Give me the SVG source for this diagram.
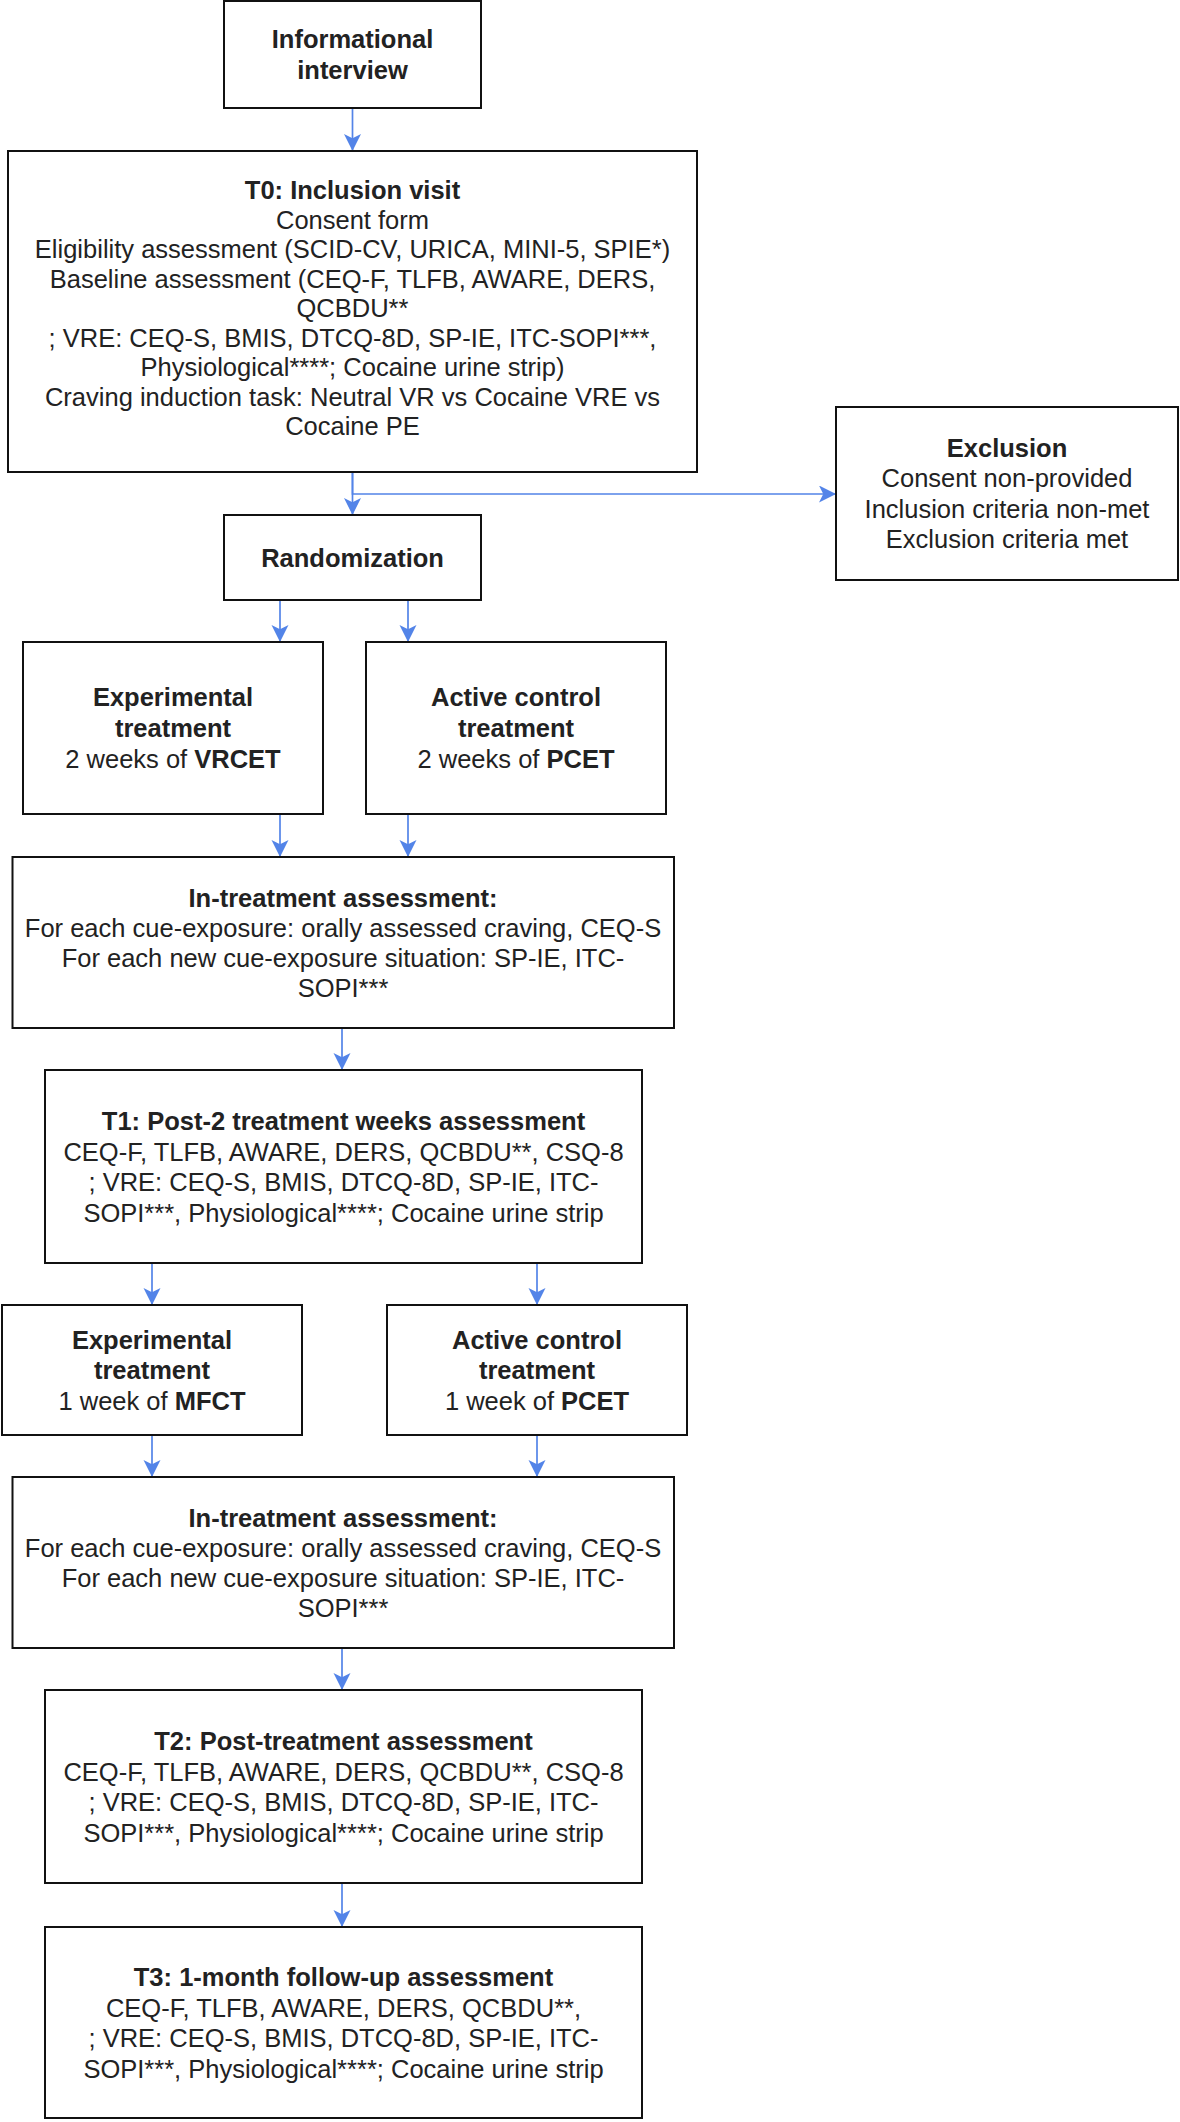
<svg xmlns="http://www.w3.org/2000/svg" width="1180" height="2122" viewBox="0 0 1180 2122">
<defs>
<style>
.box{fill:#fff;stroke:#111;stroke-width:2}
.t{font-family:"Liberation Sans",Arial,Helvetica,sans-serif;font-size:25.5px;fill:#222;text-anchor:middle}
.b{font-weight:bold}
.arr{fill:none;stroke:#5384e8;stroke-width:1.7;marker-end:url(#ah)}
</style>
<marker id="ah" markerUnits="userSpaceOnUse" markerWidth="18" markerHeight="18" refX="17" refY="8.5" orient="auto">
<path d="M0,0 L17,8.5 L0,17 L4.25,8.5 Z" fill="#5384e8"/>
</marker>
</defs>
<rect width="1180" height="2122" fill="#fff"/>

<g id="connectors">
<path class="arr" d="M352.5,108 V151"/>
<path class="arr" d="M352.5,472 V515"/>
<path class="arr" d="M352.5,472 V494 H836"/>
<path class="arr" d="M280,600 V642"/>
<path class="arr" d="M408,600 V642"/>
<path class="arr" d="M280,814 V857"/>
<path class="arr" d="M408,814 V857"/>
<path class="arr" d="M342,1028 V1070"/>
<path class="arr" d="M152,1263 V1305"/>
<path class="arr" d="M537,1263 V1305"/>
<path class="arr" d="M152,1435 V1477"/>
<path class="arr" d="M537,1435 V1477"/>
<path class="arr" d="M342,1648 V1690"/>
<path class="arr" d="M342,1883 V1927"/>
</g>

<g id="informational-interview">
<rect class="box" x="224" y="1" width="257" height="107"/>
<text class="t b" x="352.5" y="48">Informational</text>
<text class="t b" x="352.5" y="79">interview</text>
</g>

<g id="t0-inclusion">
<rect class="box" x="8" y="151" width="689" height="321"/>
<text class="t b" x="352.5" y="199">T0: Inclusion visit</text>
<text class="t" x="352.5" y="228.5">Consent form</text>
<text class="t" x="352.5" y="258">Eligibility assessment (SCID-CV, URICA, MINI-5, SPIE*)</text>
<text class="t" x="352.5" y="287.5">Baseline assessment (CEQ-F, TLFB, AWARE, DERS,</text>
<text class="t" x="352.5" y="317">QCBDU**</text>
<text class="t" x="352.5" y="346.5">; VRE: CEQ-S, BMIS, DTCQ-8D, SP-IE, ITC-SOPI***,</text>
<text class="t" x="352.5" y="376">Physiological****; Cocaine urine strip)</text>
<text class="t" x="352.5" y="405.5">Craving induction task: Neutral VR vs Cocaine VRE vs</text>
<text class="t" x="352.5" y="435">Cocaine PE</text>
</g>

<g id="exclusion">
<rect class="box" x="836" y="407" width="342" height="173"/>
<text class="t b" x="1007" y="456.5">Exclusion</text>
<text class="t" x="1007" y="487">Consent non-provided</text>
<text class="t" x="1007" y="517.5">Inclusion criteria non-met</text>
<text class="t" x="1007" y="548">Exclusion criteria met</text>
</g>

<g id="randomization">
<rect class="box" x="224" y="515" width="257" height="85"/>
<text class="t b" x="352.5" y="566.5">Randomization</text>
</g>

<g id="experimental-1">
<rect class="box" x="23" y="642" width="300" height="172"/>
<text class="t b" x="173" y="706">Experimental</text>
<text class="t b" x="173" y="737">treatment</text>
<text class="t" x="173" y="768">2 weeks of <tspan class="b">VRCET</tspan></text>
</g>

<g id="active-control-1">
<rect class="box" x="366" y="642" width="300" height="172"/>
<text class="t b" x="516" y="706">Active control</text>
<text class="t b" x="516" y="737">treatment</text>
<text class="t" x="516" y="768">2 weeks of <tspan class="b">PCET</tspan></text>
</g>

<g id="in-treatment-1">
<rect class="box" x="12.5" y="857" width="661.5" height="171"/>
<text class="t b" x="343" y="906.5">In-treatment assessment:</text>
<text class="t" x="343" y="936.5">For each cue-exposure: orally assessed craving, CEQ-S</text>
<text class="t" x="343" y="966.5">For each new cue-exposure situation: SP-IE, ITC-</text>
<text class="t" x="343" y="996.5">SOPI***</text>
</g>

<g id="t1-post2weeks">
<rect class="box" x="45" y="1070" width="597" height="193"/>
<text class="t b" x="343.5" y="1130">T1: Post-2 treatment weeks assessment</text>
<text class="t" x="343.5" y="1160.5">CEQ-F, TLFB, AWARE, DERS, QCBDU**, CSQ-8</text>
<text class="t" x="343.5" y="1191">; VRE: CEQ-S, BMIS, DTCQ-8D, SP-IE, ITC-</text>
<text class="t" x="343.5" y="1221.5">SOPI***, Physiological****; Cocaine urine strip</text>
</g>

<g id="experimental-2">
<rect class="box" x="2" y="1305" width="300" height="130"/>
<text class="t b" x="152" y="1348.5">Experimental</text>
<text class="t b" x="152" y="1379">treatment</text>
<text class="t" x="152" y="1409.5">1 week of <tspan class="b">MFCT</tspan></text>
</g>

<g id="active-control-2">
<rect class="box" x="387" y="1305" width="300" height="130"/>
<text class="t b" x="537" y="1348.5">Active control</text>
<text class="t b" x="537" y="1379">treatment</text>
<text class="t" x="537" y="1409.5">1 week of <tspan class="b">PCET</tspan></text>
</g>

<g id="in-treatment-2">
<rect class="box" x="12.5" y="1477" width="661.5" height="171"/>
<text class="t b" x="343" y="1526.5">In-treatment assessment:</text>
<text class="t" x="343" y="1556.5">For each cue-exposure: orally assessed craving, CEQ-S</text>
<text class="t" x="343" y="1586.5">For each new cue-exposure situation: SP-IE, ITC-</text>
<text class="t" x="343" y="1616.5">SOPI***</text>
</g>

<g id="t2-post-treatment">
<rect class="box" x="45" y="1690" width="597" height="193"/>
<text class="t b" x="343.5" y="1750">T2: Post-treatment assessment</text>
<text class="t" x="343.5" y="1780.5">CEQ-F, TLFB, AWARE, DERS, QCBDU**, CSQ-8</text>
<text class="t" x="343.5" y="1811">; VRE: CEQ-S, BMIS, DTCQ-8D, SP-IE, ITC-</text>
<text class="t" x="343.5" y="1841.5">SOPI***, Physiological****; Cocaine urine strip</text>
</g>

<g id="t3-follow-up">
<rect class="box" x="45" y="1927" width="597" height="191"/>
<text class="t b" x="343.5" y="1986">T3: 1-month follow-up assessment</text>
<text class="t" x="343.5" y="2016.5">CEQ-F, TLFB, AWARE, DERS, QCBDU**,</text>
<text class="t" x="343.5" y="2047">; VRE: CEQ-S, BMIS, DTCQ-8D, SP-IE, ITC-</text>
<text class="t" x="343.5" y="2077.5">SOPI***, Physiological****; Cocaine urine strip</text>
</g>
</svg>
